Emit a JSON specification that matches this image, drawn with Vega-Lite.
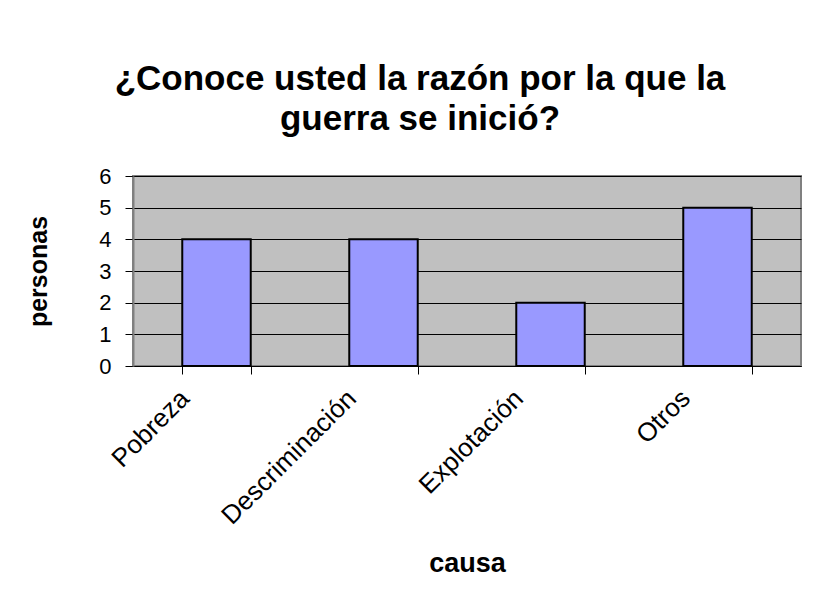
{
  "$schema": "https://vega.github.io/schema/vega-lite/v6.json",
  "autosize": "none",
  "width": 668,
  "height": 190,
  "padding": {"left": 133, "top": 176, "right": 14, "bottom": 234},
  "background": "white",
  "title": {
    "text": ["¿Conoce usted la razón por la que la", "guerra se inició?"],
    "font": "Liberation Sans",
    "fontSize": 35,
    "fontWeight": "bold",
    "lineHeight": 40,
    "color": "black",
    "anchor": "middle",
    "dx": -47,
    "offset": 28
  },
  "data": {
    "values": [
      {"causa": "Pobreza", "personas": 4},
      {"causa": "Descriminación", "personas": 4},
      {"causa": "Explotación", "personas": 2},
      {"causa": "Otros", "personas": 5}
    ]
  },
  "mark": {"type": "bar", "fill": "#9999FF", "stroke": "black", "strokeWidth": 2},
  "encoding": {
    "x": {
      "field": "causa",
      "type": "nominal",
      "sort": null,
      "scale": {"paddingInner": 0.59, "paddingOuter": 0.295},
      "axis": {
        "title": "causa",
        "titleFont": "Liberation Sans",
        "titleFontSize": 27,
        "titleFontWeight": "bold",
        "titleColor": "black",
        "titlePadding": 22,
        "labelFont": "Liberation Sans",
        "labelFontSize": 26,
        "labelColor": "black",
        "labelAngle": -45,
        "labelAlign": "right",
        "labelBaseline": "middle",
        "labelOffset": -32,
        "labelPadding": 20,
        "tickBand": "extent",
        "tickSize": 8,
        "tickColor": "black",
        "domainColor": "black",
        "domainWidth": 1,
        "grid": false
      }
    },
    "y": {
      "field": "personas",
      "type": "quantitative",
      "scale": {"domain": [0, 6]},
      "axis": {
        "title": "personas",
        "titleFont": "Liberation Sans",
        "titleFontSize": 25,
        "titleFontWeight": "bold",
        "titleColor": "black",
        "titlePadding": 47,
        "values": [0, 1, 2, 3, 4, 5, 6],
        "labelFont": "Liberation Sans",
        "labelFontSize": 22,
        "labelColor": "black",
        "labelPadding": 14,
        "tickSize": 8,
        "tickColor": "black",
        "domainColor": "#808080",
        "domainWidth": 2,
        "grid": true,
        "gridColor": "black",
        "gridWidth": 1
      }
    }
  },
  "config": {"view": {"fill": "#C0C0C0", "stroke": "#808080", "strokeWidth": 2}}
}
